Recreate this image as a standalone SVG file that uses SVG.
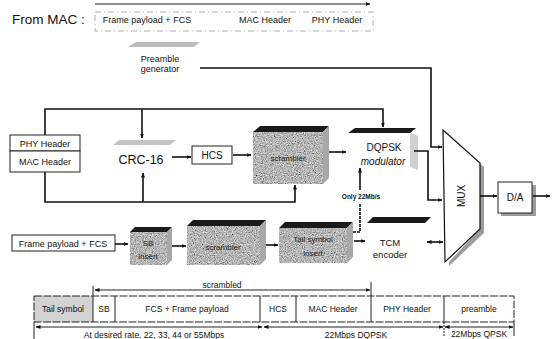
<svg xmlns="http://www.w3.org/2000/svg" width="552" height="339" viewBox="0 0 552 339">
<style>
text{font-family:"Liberation Sans",Arial,sans-serif;fill:#111}
.ln{fill:none;stroke:#111;stroke-width:1.6}
.th{fill:none;stroke:#222;stroke-width:1}
.dash{fill:none;stroke:#999;stroke-width:0.8;stroke-dasharray:6 3 1 3}
.box{fill:#fff;stroke:#222;stroke-width:1}
.grain{fill:#8e8e8e}
.top{fill:#1a1a1a}
.side{fill:#a8a8a8}
.s9{font-size:9px}
.s85{font-size:8.5px}
.c{text-anchor:middle}
.inbox{font-size:8px;fill:#222;text-anchor:middle}
</style>
<defs>
<marker id="ah" viewBox="0 0 10 10" refX="9" refY="5" markerWidth="5" markerHeight="5" orient="auto-start-reverse" markerUnits="userSpaceOnUse">
<path d="M0,1 L10,5 L0,9 z" fill="#111"/>
</marker>
<filter id="noise" x="0" y="0" width="100%" height="100%">
<feTurbulence type="fractalNoise" baseFrequency="0.9" numOctaves="3" seed="4" result="n"/>
<feColorMatrix in="n" type="matrix" values="0.33 0.33 0.33 0 0  0.33 0.33 0.33 0 0  0.33 0.33 0.33 0 0  0 0 0 0 1" result="g"/>
<feComponentTransfer in="g" result="c">
<feFuncR type="linear" slope="1.7" intercept="-0.38"/>
<feFuncG type="linear" slope="1.7" intercept="-0.38"/>
<feFuncB type="linear" slope="1.7" intercept="-0.38"/>
</feComponentTransfer>
<feComposite in="c" in2="SourceGraphic" operator="in"/>
</filter>
</defs>

<rect width="552" height="339" fill="#fff"/>

<g id="from-mac">
<text x="12" y="24" style="font-size:13.5px">From MAC :</text>
<rect x="95" y="12" width="278" height="19" class="dash"/>
<text x="147" y="23" class="s9 c">Frame payload + FCS</text>
<text x="265" y="23" class="s9 c">MAC Header</text>
<text x="337" y="23" class="s9 c">PHY Header</text>
</g>

<g id="preamble-generator">
<polygon points="128,47 136,42 200,42 194,47" fill="#bdbdbd"/>
<text x="160" y="62" class="s9 c">Preamble</text>
<text x="160" y="72" class="s9 c">generator</text>
</g>

<g id="phy-mac-header">
<rect x="10" y="135" width="70" height="16" class="box"/>
<rect x="10" y="151" width="70" height="21" class="box"/>
<text x="45" y="147" class="s9 c">PHY Header</text>
<text x="45" y="165" class="s9 c">MAC Header</text>
</g>

<g id="crc16">
<polygon points="113,145 119,140 176,140 170,145" fill="#c4c4c4"/>
<text x="141" y="164" class="c" style="font-size:12.5px">CRC-16</text>
</g>

<g id="hcs">
<rect x="192" y="146" width="40" height="18" class="box"/>
<text x="212" y="159" class="c" style="font-size:10px">HCS</text>
</g>

<g id="scrambler-header">
<rect x="253" y="132" width="70" height="52" class="grain" filter="url(#noise)"/>
<polygon points="253,132 260,126 329,126 323,132" class="top"/>
<polygon points="323,132 329,126 329,178 323,184" class="side"/>
<text x="288" y="161" class="inbox">scrambler</text>
</g>

<g id="dqpsk">
<polygon points="348,133 355,128 416,128 410,133" class="top"/>
<polygon points="410,133 418,136 418,170 410,167" fill="#d0d0d0"/>
<text x="384" y="151" class="c" style="font-size:10px">DQPSK</text>
<text x="383" y="165" class="c" style="font-size:10px;font-style:italic">modulator</text>
</g>

<g id="mux">
<polygon points="447,134 484,167 484,233 449,266 449,262 480,229 480,163" fill="#9c9c9c"/>
<polygon points="443,130 480,163 480,229 445,262" fill="#fff" stroke="#111" stroke-width="1.2"/>
<text x="0" y="0" class="c" style="font-size:10px" transform="translate(465,196) rotate(-90)">MUX</text>
</g>

<g id="da">
<rect x="501" y="185" width="35" height="31" fill="#9c9c9c"/>
<rect x="498" y="182" width="34" height="31" class="box"/>
<text x="515" y="201" class="c" style="font-size:10px">D/A</text>
</g>

<g id="frame-payload">
<rect x="12" y="235" width="103" height="16" class="box"/>
<text x="63" y="247" class="s9 c">Frame payload + FCS</text>
</g>

<g id="sb-insert">
<rect x="130" y="232" width="37" height="33" class="grain" filter="url(#noise)"/>
<polygon points="130,232 135,227 172,227 167,232" class="top"/>
<polygon points="167,232 172,227 172,260 167,265" class="side"/>
<text x="148" y="246" class="inbox">SB</text>
<text x="148" y="259" class="inbox">insert</text>
</g>

<g id="scrambler-payload">
<rect x="187" y="226" width="73" height="39" class="grain" filter="url(#noise)"/>
<polygon points="187,226 193,220 266,220 260,226" class="top"/>
<polygon points="260,226 266,220 266,259 260,265" class="side"/>
<text x="223" y="250" class="inbox">scrambler</text>
</g>

<g id="tail-symbol-insert">
<rect x="279" y="228" width="68" height="35" class="grain" filter="url(#noise)"/>
<polygon points="279,228 285,222 353,222 347,228" class="top"/>
<polygon points="347,228 353,222 353,257 347,263" class="side"/>
<text x="313" y="242" class="inbox">Tail symbol</text>
<text x="313" y="256" class="inbox">insert</text>
</g>

<g id="tcm">
<polygon points="367,223 373,217 431,217 425,223" class="top"/>
<text x="390" y="246" class="c" style="font-size:9.5px">TCM</text>
<text x="390" y="258" class="c" style="font-size:9.5px">encoder</text>
</g>

<g id="only22">
<text x="361" y="199" class="c" style="font-size:6.5px;font-weight:bold">Only 22Mb/s</text>
</g>

<g id="frame-table">
<rect x="34" y="296" width="59" height="26" fill="#d2d2d2"/>
<rect x="34" y="296" width="480" height="26" class="th" stroke-dasharray="8 1.5"/>
<path d="M93,296V322M115,296V322M260,296V322M296,296V322M371,296V322M444,296V322" class="th"/>
<text x="63" y="312" class="s85 c">Tail symbol</text>
<text x="104" y="312" class="s85 c">SB</text>
<text x="187" y="312" class="s85 c">FCS + Frame payload</text>
<text x="278" y="312" class="s85 c">HCS</text>
<text x="333" y="312" class="s85 c">MAC Header</text>
<text x="407" y="312" class="s85 c">PHY Header</text>
<text x="479" y="312" class="s85 c">preamble</text>
<text x="222" y="288" class="s85 c">scrambled</text>
<text x="154" y="338" class="s85 c">At desired rate, 22, 33, 44 or 55Mbps</text>
<text x="356" y="338" class="s85 c">22Mbps DQPSK</text>
<text x="479" y="337" class="s85 c">22Mbps QPSK</text>
</g>

<g id="connectors">
<line x1="95" y1="4" x2="370" y2="4" class="th" marker-end="url(#ah)"/>
<polyline points="200,68 431,68 431,147 442,147" class="ln" marker-end="url(#ah)"/>
<polyline points="45,135 45,109 383,109 383,127" class="ln" marker-end="url(#ah)"/>
<line x1="142" y1="109" x2="142" y2="138" class="ln" marker-end="url(#ah)"/>
<polyline points="45,172 45,202 295,202 295,185" class="ln" marker-end="url(#ah)"/>
<line x1="143" y1="202" x2="143" y2="173" class="ln" marker-end="url(#ah)"/>
<line x1="172" y1="157" x2="191" y2="157" class="ln" marker-end="url(#ah)"/>
<line x1="233" y1="155" x2="251" y2="155" class="ln" marker-end="url(#ah)"/>
<line x1="329" y1="152" x2="346" y2="152" class="ln" marker-end="url(#ah)"/>
<polyline points="414,151 428,151 428,200 442,200" class="ln" marker-end="url(#ah)"/>
<line x1="480" y1="196" x2="497" y2="196" class="ln" marker-end="url(#ah)"/>
<line x1="533" y1="196" x2="550" y2="196" class="ln" marker-end="url(#ah)"/>
<line x1="115" y1="244" x2="128" y2="244" class="ln" marker-end="url(#ah)"/>
<line x1="172" y1="246" x2="186" y2="246" class="ln" marker-end="url(#ah)"/>
<line x1="266" y1="245" x2="278" y2="245" class="ln" marker-end="url(#ah)"/>
<polyline points="353,232 360,232 360,203" class="ln" stroke-dasharray="3 1"/>
<line x1="360" y1="190" x2="360" y2="168" class="ln" marker-end="url(#ah)"/>
<line x1="354" y1="241" x2="365" y2="241" class="ln" marker-end="url(#ah)"/>
<line x1="427" y1="242" x2="443" y2="242" class="ln" marker-start="url(#ah)" marker-end="url(#ah)"/>
<line x1="95" y1="290" x2="370" y2="290" class="th" marker-start="url(#ah)" marker-end="url(#ah)"/>
<line x1="93" y1="286" x2="93" y2="296" class="th"/>
<line x1="371" y1="282" x2="371" y2="296" class="th"/>
<line x1="36" y1="327" x2="262" y2="327" class="th" marker-start="url(#ah)" marker-end="url(#ah)"/>
<line x1="264" y1="327" x2="443" y2="327" class="th" marker-start="url(#ah)" marker-end="url(#ah)"/>
<line x1="445" y1="327" x2="513" y2="327" class="th" marker-start="url(#ah)" marker-end="url(#ah)"/>
<line x1="34" y1="322" x2="34" y2="339" class="th"/>
<line x1="444" y1="322" x2="444" y2="336" class="th" stroke-dasharray="2 1"/>
<line x1="514" y1="322" x2="514" y2="336" class="th"/>
</g>
</svg>
